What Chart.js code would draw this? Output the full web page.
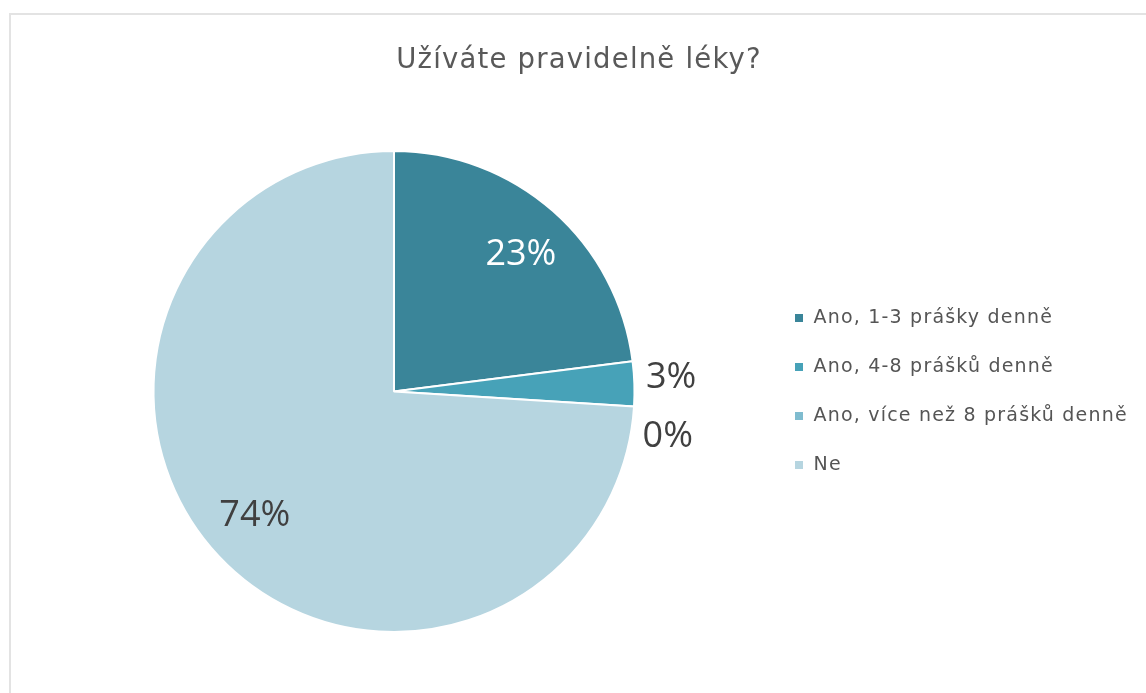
<!DOCTYPE html>
<html lang="cs">
<head>
<meta charset="utf-8">
<title>Užíváte pravidelně léky?</title>
<script src="https://cdn.jsdelivr.net/npm/chart.js@4.4.1/dist/chart.umd.min.js"></script>
<style>
  html, body { margin: 0; padding: 0; background: #ffffff; overflow: hidden; }
  body { width: 1146px; height: 693px; position: relative; }
  .frame {
    position: absolute; left: 9px; top: 13px;
    width: 1300px; height: 900px;
    border: 2px solid #e3e3e3; box-sizing: border-box;
  }
  #chart { position: absolute; left: 0; top: 0; }
</style>
</head>
<body>
<div class="frame"></div>
<canvas id="chart" width="1146" height="693"></canvas>
<script>
// Survey answers and their shares (%)
const titleText = 'Užíváte pravidelně léky?';
const answers = [
  'Ano, 1-3 prášky denně',
  'Ano, 4-8 prášků denně',
  'Ano, více než 8 prášků denně',
  'Ne'
];
const shares = [23, 3, 0, 74];
const sliceColors = ['#3a8599', '#47a2b8', '#7fbccf', '#b6d5e0'];
const labelColors = ['#ffffff', '#404040', '#404040', '#404040'];

// Slightly widened text for title and legend
const textSpacing = {
  id: 'textSpacing',
  beforeLayout(chart) { chart.ctx.letterSpacing = '1.2px'; },
  beforeDraw(chart) { chart.ctx.letterSpacing = '1.2px'; }
};

// Percentage labels: large slices inside, thin slices outside with collision push
const sliceLabels = {
  id: 'sliceLabels',
  afterDatasetsDraw(chart) {
    const ctx = chart.ctx;
    const meta = chart.getDatasetMeta(0);
    const values = chart.data.datasets[0].data;
    const total = values.reduce((a, b) => a + b, 0);
    ctx.save();
    ctx.letterSpacing = '0px';
    ctx.font = '36px "Open Sans", sans-serif';
    ctx.textAlign = 'center';
    ctx.textBaseline = 'middle';
    let lastOutsideY = null;
    meta.data.forEach((arc, i) => {
      const p = arc.getProps(['x', 'y', 'startAngle', 'endAngle', 'outerRadius'], true);
      const mid = (p.startAngle + p.endAngle) / 2;
      const pct = values[i] / total * 100;
      const text = Math.round(pct) + '%';
      let lx, ly;
      if (pct >= 10) {
        const a = mid + 0.025;
        const d = p.outerRadius * 0.776;
        lx = p.x + Math.cos(a) * d;
        ly = p.y + Math.sin(a) * d;
      } else {
        const d = p.outerRadius + 37;
        ly = p.y + Math.sin(mid) * d - 5;
        if (lastOutsideY !== null && ly < lastOutsideY + 59) ly = lastOutsideY + 59;
        const dy = ly - p.y;
        lx = p.x + Math.sqrt(Math.max(d * d - dy * dy, 0));
        lastOutsideY = ly;
      }
      ctx.fillStyle = labelColors[i];
      ctx.fillText(text, lx, ly);
    });
    ctx.restore();
  }
};

new Chart(document.getElementById('chart'), {
  type: 'pie',
  data: {
    labels: answers,
    datasets: [{
      data: shares,
      backgroundColor: sliceColors,
      borderColor: '#ffffff',
      borderWidth: 2,
      hoverOffset: 0
    }]
  },
  options: {
    responsive: false,
    animation: false,
    devicePixelRatio: 1,
    layout: { padding: { left: 24, right: 12, top: 0, bottom: 60 } },
    plugins: {
      title: {
        display: true,
        text: titleText,
        color: '#595959',
        font: { family: '"DejaVu Sans", sans-serif', size: 27.5, weight: 'normal', lineHeight: 1.2 },
        padding: { top: 44, bottom: 73 }
      },
      legend: {
        display: true,
        position: 'right',
        align: 'center',
        fullSize: false,
        maxWidth: 370,
        labels: {
          boxWidth: 10,
          boxHeight: 10,
          padding: 30,
          color: '#555555',
          font: { family: '"DejaVu Sans", sans-serif', size: 19 }
        }
      },
      tooltip: { enabled: false }
    }
  },
  plugins: [textSpacing, sliceLabels]
});
</script>
</body>
</html>
